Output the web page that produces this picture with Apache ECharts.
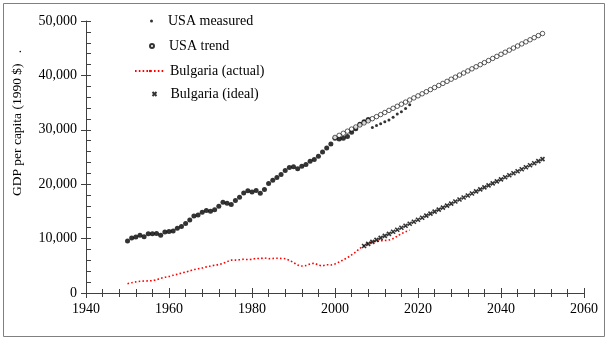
<!DOCTYPE html>
<html>
<head>
<meta charset="utf-8">
<script src="https://cdn.jsdelivr.net/npm/echarts@6/dist/echarts.min.js"></script>
<style>
  html, body { margin: 0; padding: 0; background: #fff; }
  #chart { width: 609px; height: 341px; }
</style>
</head>
<body>
<div id="chart"></div>
<script>
// Axis ticks
const xTicks = [1940, 1960, 1980, 2000, 2020, 2040, 2060];
const yTicks = [0, 10000, 20000, 30000, 40000, 50000];

// USA GDP per capita, measured (1950-2008)
const usaYears = [1950,1951,1952,1953,1954,1955,1956,1957,1958,1959,1960,1961,1962,1963,1964,1965,1966,1967,1968,1969,
  1970,1971,1972,1973,1974,1975,1976,1977,1978,1979,1980,1981,1982,1983,1984,1985,1986,1987,1988,1989,
  1990,1991,1992,1993,1994,1995,1996,1997,1998,1999,2000,2001,2002,2003,2004,2005,2006,2007,2008];
const usaMeasured = [9561,10116,10316,10613,10359,10897,10914,10920,10631,11230,11328,11402,11905,12242,12773,13419,14134,14330,14863,15179,
  15030,15304,15944,16689,16491,16284,17002,17596,18373,18789,18577,18856,18325,19047,20123,20717,21236,21788,22499,23059,
  23201,22849,23298,23616,24236,24554,25156,25940,26643,27393,28467,28325,28437,28765,29543,30200,31000,31500,31900];

// USA measured, later series (2009-2018)
const usaLateYears = [2009,2010,2011,2012,2013,2014,2015,2016,2017,2018];
const usaLate = [30400,30800,31100,31500,31800,32300,32900,33300,33900,34600];

// USA trend (2000-2050)
const trendYears = [2000,2001,2002,2003,2004,2005,2006,2007,2008,2009,2010,2011,2012,2013,2014,2015,2016,2017,2018,2019,
  2020,2021,2022,2023,2024,2025,2026,2027,2028,2029,2030,2031,2032,2033,2034,2035,2036,2037,2038,2039,
  2040,2041,2042,2043,2044,2045,2046,2047,2048,2049,2050];
const usaTrend = [28600,28980,29360,29750,30130,30510,30890,31270,31660,32040,32420,32800,33180,33570,33950,34330,34710,35090,35480,35860,
  36240,36620,37000,37390,37770,38150,38530,38910,39300,39680,40060,40440,40820,41210,41590,41970,42350,42730,43120,43500,
  43880,44260,44640,45030,45410,45790,46170,46550,46940,47320,47700];

// Bulgaria actual (1950-2018)
const bgYears = [1950,1951,1952,1953,1954,1955,1956,1957,1958,1959,1960,1961,1962,1963,1964,1965,1966,1967,1968,1969,
  1970,1971,1972,1973,1974,1975,1976,1977,1978,1979,1980,1981,1982,1983,1984,1985,1986,1987,1988,1989,
  1990,1991,1992,1993,1994,1995,1996,1997,1998,1999,2000,2001,2002,2003,2004,2005,2006,2007,2008,2009,
  2010,2011,2012,2013,2014,2015,2016,2017,2018];
const bgActual = [1700,1900,2050,2150,2200,2230,2280,2450,2700,2900,3050,3250,3450,3650,3850,4050,4300,4450,4600,4800,
  4950,5100,5250,5450,5750,6050,6050,6100,6200,6150,6200,6350,6350,6450,6300,6350,6400,6350,6300,6000,
  5600,5150,4950,5050,5350,5450,5150,5000,5200,5150,5350,5700,6100,6500,7000,7550,8200,8700,9200,9400,
  9500,9600,9650,9750,10000,10450,10900,11250,11550];

// Bulgaria ideal path (2007-2050)
const idealYears = [2007,2008,2009,2010,2011,2012,2013,2014,2015,2016,2017,2018,2019,2020,2021,2022,2023,2024,2025,2026,
  2027,2028,2029,2030,2031,2032,2033,2034,2035,2036,2037,2038,2039,2040,2041,2042,2043,2044,2045,2046,
  2047,2048,2049,2050];
const bgIdeal = [8650,9020,9390,9760,10130,10500,10880,11250,11620,11990,12360,12730,13100,13470,13840,14220,14590,14960,15330,15700,
  16070,16440,16810,17180,17550,17930,18300,18670,19040,19410,19780,20150,20520,20890,21270,21640,22010,22380,22750,23120,
  23490,23860,24230,24600];

const pair = (xs, ys) => xs.map((x, i) => [x, ys[i]]);

const FONT = 'Liberation Serif';
const AXIS_COLOR = '#404040';
const CROSS = 'path://M0,0L10,10M10,0L0,10';

function xAxisDef(inside, labels) {
  return {
    type: 'value', min: xTicks[0], max: xTicks[xTicks.length - 1], interval: 20,
    position: 'bottom',
    axisLine: { show: labels, onZero: false, lineStyle: { color: AXIS_COLOR, width: 1 } },
    axisTick: { show: true, inside: inside, length: 5, lineStyle: { color: AXIS_COLOR } },
    minorTick: { show: true, splitNumber: 5, length: 4, lineStyle: { color: AXIS_COLOR } },
    splitLine: { show: false },
    axisLabel: { show: labels, margin: 9, color: '#000', fontFamily: FONT, fontSize: 14, formatter: v => String(v) }
  };
}

function yAxisDef(inside, labels) {
  return {
    type: 'value', min: yTicks[0], max: yTicks[yTicks.length - 1], interval: 10000,
    position: 'left',
    name: labels ? 'GDP per capita (1990 $)   .' : '',
    nameLocation: 'middle', nameRotate: 90, nameGap: 62,
    nameTextStyle: { fontFamily: FONT, fontSize: 13.5, color: '#000', padding: [0, 0, 0, 68] },
    axisLine: { show: labels, onZero: false, lineStyle: { color: AXIS_COLOR, width: 1 } },
    axisTick: { show: true, inside: inside, length: 5, lineStyle: { color: AXIS_COLOR } },
    minorTick: { show: inside, splitNumber: 5, length: 5, lineStyle: { color: AXIS_COLOR } },
    splitLine: { show: false },
    axisLabel: {
      show: labels, margin: 9, color: '#000', fontFamily: FONT, fontSize: 14,
      formatter: v => v.toLocaleString('en-US')
    }
  };
}

function legendDef(name, top, left, w, h, padLeft) {
  return {
    show: true, orient: 'vertical', left: left, top: top,
    itemWidth: w, itemHeight: h, itemGap: 0, padding: 0,
    data: [name],
    textStyle: { fontFamily: FONT, fontSize: 14, color: '#000', padding: [0, 0, 0, padLeft] }
  };
}

const chart = echarts.init(document.getElementById('chart'), null, { renderer: 'canvas' });
chart.setOption({
  backgroundColor: '#fff',
  animation: false,
  grid: { left: 86, right: 25, top: 21, bottom: 48, containLabel: false },
  xAxis: [xAxisDef(false, true), xAxisDef(true, false)],
  yAxis: [yAxisDef(false, true), yAxisDef(true, false)],
  legend: [
    legendDef('USA measured', 14, 150, 3, 3, 10),
    legendDef('USA trend', 39, 149, 4, 4, 10),
    legendDef('Bulgaria (actual)', 64, 134, 30, 3, 0),
    legendDef('Bulgaria (ideal)', 87, 150, 4, 4, 9)
  ],
  graphic: [{
    type: 'rect', silent: true,
    shape: { x: 3.5, y: 3.5, width: 601, height: 333 },
    style: { fill: 'none', stroke: '#808080', lineWidth: 1 }
  }],
  series: [
    {
      name: 'Bulgaria (actual)', type: 'line', xAxisIndex: 0, yAxisIndex: 0,
      data: pair(bgYears, bgActual), symbol: 'none', showSymbol: false, smooth: 0.3,
      lineStyle: { color: '#ff0000', width: 1.6, type: [1.6, 2.2] },
      itemStyle: { color: '#ff0000' }, z: 2
    },
    {
      name: 'Bulgaria (ideal)', type: 'scatter', xAxisIndex: 0, yAxisIndex: 0,
      data: pair(idealYears, bgIdeal), symbol: CROSS, symbolSize: 4,
      itemStyle: { color: 'none', borderColor: '#000', borderWidth: 1.6 }, z: 3
    },
    {
      name: 'USA measured', type: 'scatter', xAxisIndex: 0, yAxisIndex: 0,
      data: pair(usaYears, usaMeasured), symbol: 'circle', symbolSize: 5,
      itemStyle: { color: '#000' }, z: 3
    },
    {
      name: 'USA measured', type: 'scatter', xAxisIndex: 0, yAxisIndex: 0,
      data: pair(usaLateYears, usaLate), symbol: 'circle', symbolSize: 3,
      itemStyle: { color: '#000' }, z: 3
    },
    {
      name: 'USA trend', type: 'scatter', xAxisIndex: 0, yAxisIndex: 0,
      data: pair(trendYears, usaTrend), symbol: 'circle', symbolSize: 4.5,
      itemStyle: { color: '#fff', borderColor: '#000', borderWidth: 0.8 }, z: 4
    }
  ]
});
</script>
</body>
</html>
